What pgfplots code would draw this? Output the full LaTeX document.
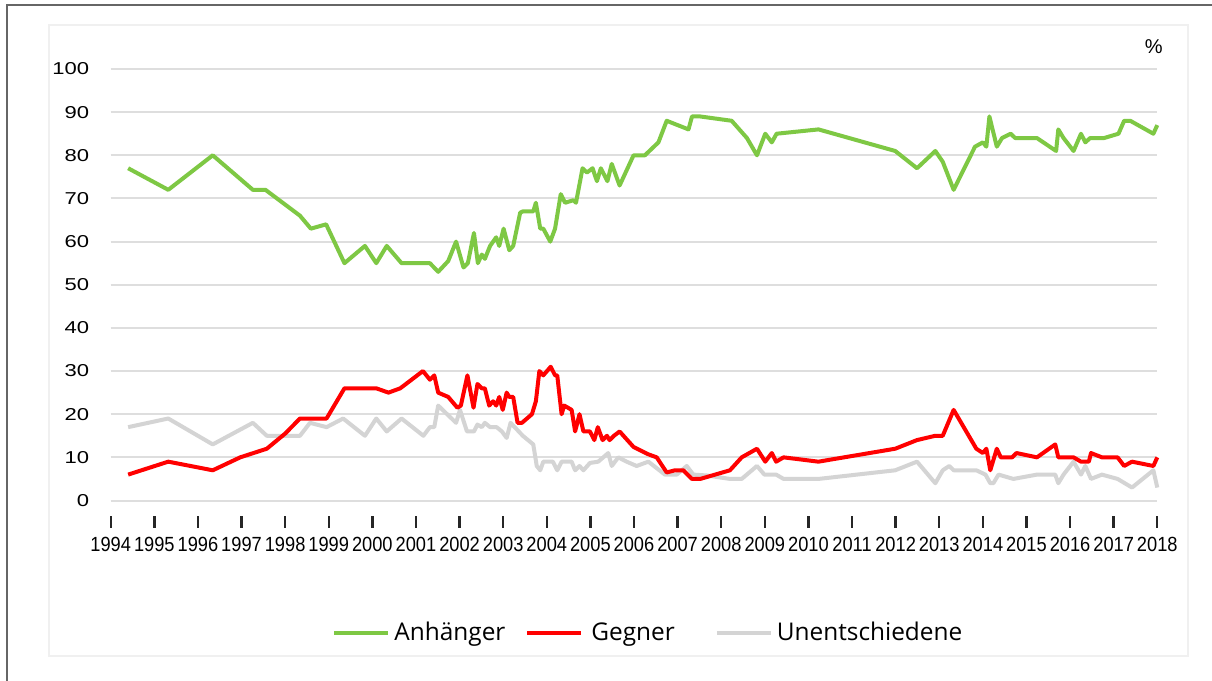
\documentclass[border=0pt]{standalone}
\usepackage{pgfplots}
\pgfplotsset{compat=1.18}
\usepackage{pgfplotstable}
\usepackage{fontspec}
\setmainfont{Liberation Sans}
\newfontfamily\legfont{Open Sans}
\newfontfamily\xtickfont[FakeStretch=0.89]{Liberation Sans}
\newfontfamily\ytickfont[FakeStretch=1.28]{Liberation Sans}
\definecolor{cgreen}{RGB}{126,200,68}
\definecolor{cred}{RGB}{255,0,0}
\definecolor{cgray}{RGB}{212,212,212}
\definecolor{cgrid}{RGB}{222,222,222}

\pgfplotstableread{
x y
1994.40 77
1995.32 72
1996.34 80
1997.26 72
1997.55 72
1998.34 66
1998.59 63
1998.94 64
1999.36 55
1999.83 59
2000.09 55
2000.33 59
2000.67 55
2001.32 55
2001.51 53
2001.74 55.5
2001.92 60
2002.09 54
2002.19 55
2002.33 62
2002.42 55
2002.51 57
2002.58 56
2002.70 59
2002.84 61
2002.91 59
2003.01 63
2003.14 58
2003.23 59
2003.39 66.7
2003.45 67
2003.69 67
2003.75 69
2003.85 63
2003.92 63
2004.08 60
2004.19 63
2004.32 71
2004.42 69
2004.61 69.6
2004.67 69
2004.82 77
2004.92 76
2005.05 77
2005.15 74
2005.24 77
2005.39 74
2005.49 78
2005.67 73
2005.99 80
2006.25 80
2006.56 83
2006.75 88
2007.25 86
2007.33 89
2007.52 89
2008.24 88
2008.59 84
2008.82 80
2009.01 85
2009.16 83
2009.27 85
2010.23 86
2011.99 81
2012.49 77
2012.91 81
2013.08 78.5
2013.33 72
2013.82 82
2014.00 83
2014.08 82
2014.15 89
2014.32 82
2014.44 84
2014.64 85
2014.74 84
2015.24 84
2015.68 81
2015.73 86
2015.85 84
2016.08 81
2016.25 85
2016.35 83
2016.46 84
2016.78 84
2017.11 85
2017.24 88
2017.38 88
2017.91 85
2018.00 87
}\anh

\pgfplotstableread{
x y
1994.40 6
1995.32 9
1996.34 7
1996.97 10
1997.58 12
1998.00 15.5
1998.34 19
1998.95 19
1999.36 26
2000.09 26
2000.37 25
2000.64 26
2001.16 30
2001.32 28
2001.42 29
2001.51 25
2001.74 24
2001.95 21.5
2002.03 22
2002.18 29
2002.32 21.5
2002.41 27
2002.51 26
2002.58 26
2002.68 22
2002.77 23
2002.84 22
2002.91 24
2002.99 21
2003.08 25
2003.14 24
2003.23 24
2003.33 18
2003.43 18
2003.66 20
2003.75 23
2003.83 30
2003.92 29
2004.09 31
2004.19 29
2004.24 29
2004.34 20
2004.40 22
2004.57 21
2004.65 16
2004.75 20
2004.84 16
2004.99 16
2005.09 14
2005.17 17
2005.28 14
2005.38 15
2005.44 14
2005.54 15
2005.67 16
2005.99 12.4
2006.33 10.7
2006.52 10
2006.75 6.5
2006.94 7
2007.13 7
2007.33 5
2007.52 5
2008.20 7
2008.47 10
2008.82 12
2009.01 9
2009.16 11
2009.26 9
2009.43 10
2010.23 9
2011.99 12
2012.49 14
2012.91 15
2013.08 15
2013.33 21
2013.85 12
2014.00 11
2014.08 12
2014.17 7
2014.32 12
2014.41 10
2014.67 10
2014.77 11
2015.24 10
2015.66 13
2015.73 10
2016.08 10
2016.25 9
2016.43 9
2016.48 11
2016.73 10
2017.09 10
2017.24 8
2017.42 9
2017.91 8
2018.00 10
}\geg

\pgfplotstableread{
x y
1994.40 17
1995.32 19
1996.34 13
1997.26 18
1997.58 15
1998.34 15
1998.57 18
1998.95 17
1999.33 19
1999.83 15
2000.09 19
2000.33 16
2000.67 19
2001.17 15
2001.32 17
2001.42 17
2001.51 22
2001.92 18
2002.01 21
2002.17 16
2002.33 16
2002.41 17.6
2002.51 17
2002.58 18
2002.70 17
2002.85 17
2002.97 16
2003.08 14.5
2003.17 18
2003.45 15
2003.69 13
2003.77 8
2003.85 7
2003.92 9
2004.14 9
2004.24 7
2004.34 9
2004.57 9
2004.65 7
2004.75 8
2004.84 7
2004.99 8.7
2005.18 9
2005.41 11
2005.49 8
2005.64 10
2005.83 9
2006.06 8
2006.33 9
2006.71 6
2006.98 6
2007.21 8
2007.36 6
2007.67 5.8
2008.20 5
2008.47 5
2008.82 8
2008.99 6
2009.26 6
2009.43 5
2010.23 5
2011.99 7
2012.49 9
2012.91 4
2013.08 7
2013.23 8
2013.33 7
2013.85 7
2014.06 6
2014.17 4
2014.24 4
2014.36 6
2014.70 5
2015.24 6
2015.66 6
2015.73 4
2015.85 6
2016.08 9
2016.25 6
2016.35 8
2016.48 5
2016.73 6
2017.09 5
2017.42 3
2017.91 7
2018.00 3
}\unent

\begin{document}
\begin{tikzpicture}
\begin{scope}[x=0.5pt,y=0.5pt]
\useasboundingbox (0,0) rectangle (1212,681);
\fill[white] (0,0) rectangle (1212,681);
\draw[black!60, line width=1pt] (7,-10) -- (7,676) -- (1230,676);
\draw[black!6, line width=0.6pt] (49,25) rectangle (1188,656);
\node[anchor=base east, font=\fontsize{10}{11}\selectfont, inner sep=0] at (1163,627) {\%};
\foreach \i in {0,...,24} {
  \draw[black!85, line width=1.2pt] (110.7+43.6*\i,164.5) -- (110.7+43.6*\i,152.5);
}
\end{scope}
\begin{axis}[
  at={(55.35pt,90.25pt)}, anchor=south west,
  scale only axis, width=523.3pt, height=215.75pt,
  xmin=1994, xmax=2018, ymin=0, ymax=100,
  enlargelimits=false, clip=false,
  axis line style={draw=none},
  ytick={0,10,...,100},
  xtick={1994,1995,...,2018},
  ymajorgrids, grid style={cgrid, line width=1pt},
  major tick length=0pt,
  tick style={draw=none},
  /pgf/number format/assume math mode=true,
  /pgf/number format/1000 sep={},
  yticklabel style={font=\ytickfont\fontsize{8.6}{10}\selectfont, anchor=east, xshift=-7.2pt},
  xticklabel style={font=\xtickfont\fontsize{10.25}{11}\selectfont, anchor=north, yshift=-14.6pt},
  legend columns=3,
  legend style={at={(0.2115,-0.307)}, anchor=west, draw=none, fill=none,
    inner sep=0pt, font=\legfont\fontsize{12.2}{14}\selectfont,
    /tikz/every even column/.append style={column sep=8pt}},
  legend cell align=left,
  legend image code/.code={\draw[#1,line cap=butt] (0pt,0pt) -- (27pt,0pt);},
]
\addplot[cgray, line width=2pt, line join=round, forget plot] table[x=x,y=y] {\unent};
\addplot[cred, line width=2pt, line join=round, forget plot] table[x=x,y=y] {\geg};
\addplot[cgreen, line width=2pt, line join=round, forget plot] table[x=x,y=y] {\anh};
\addlegendimage{cgreen, line width=2pt}
\addlegendentry{Anhänger}
\addlegendimage{cred, line width=2pt}
\addlegendentry{\hspace{2pt}Gegner\rule{10pt}{0pt}}
\addlegendimage{cgray, line width=2pt}
\addlegendentry{Unentschiedene}
\end{axis}
\end{tikzpicture}
\end{document}
